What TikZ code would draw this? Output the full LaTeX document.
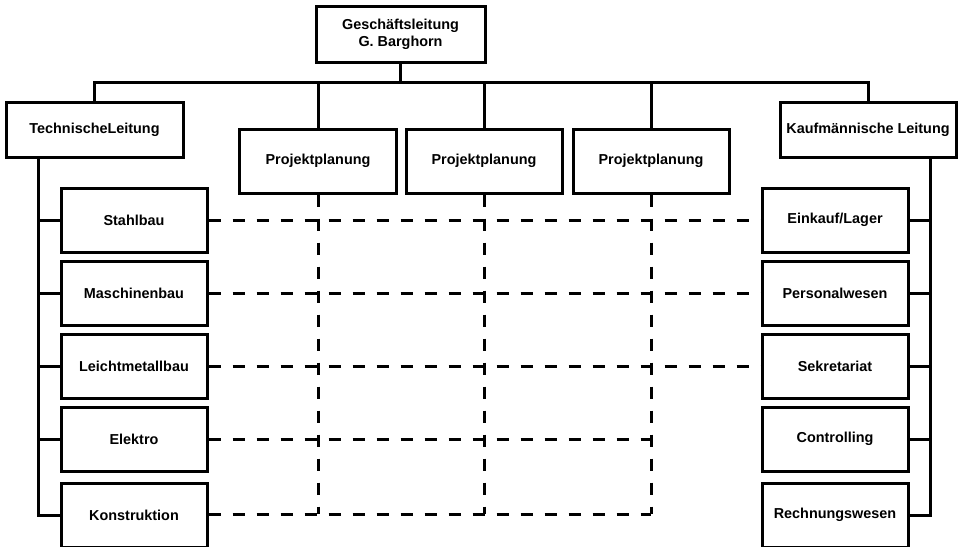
\documentclass[tikz,border=0pt]{standalone}
\usepackage{fontspec}
\setmainfont{Liberation Sans}
\begin{document}
\begin{tikzpicture}[x=1pt,y=-1pt,
  box/.style={draw,line width=3pt,fill=white,inner sep=0pt,align=center,
    font=\fontsize{14.4}{17}\selectfont\bfseries},
  sub/.style={box,minimum width=146pt,minimum height=64pt},
  tree/.style={line width=3pt},
  dsh/.style={line width=3pt,dash pattern=on 12pt off 12pt}]
\useasboundingbox (0,0) rectangle (963,546);
% nodes
\node[box,minimum width=169pt,minimum height=56pt] (top) at (400.5,34) {Geschäftsleitung\\G. Barghorn};
\node[box,minimum width=177pt,minimum height=55pt] (TL) at (94.5,129.5) {TechnischeLeitung};
\node[box,minimum width=176pt,minimum height=55pt] (KL) at (868,129.5) {Kaufmännische Leitung};
\node[box,minimum width=157pt,minimum height=64pt] (P1) at (318,161) {Projektplanung};
\node[box,minimum width=156pt,minimum height=64pt] (P2) at (484,161) {Projektplanung};
\node[box,minimum width=156pt,minimum height=64pt] (P3) at (651,161) {Projektplanung};
\coordinate (bus) at (0,82);
\coordinate (xl) at (38,0);
\coordinate (xr) at (930,0);
% dashed matrix (behind boxes)
\coordinate (yk) at (0,514);
\draw[dsh] (P1.south) -- (P1.south |- yk);
\draw[dsh] (P2.south) -- (P2.south |- yk);
\draw[dsh] (P3.south) -- (P3.south |- yk);
% left boxes
\node[sub] (L1) at (134,220) {Stahlbau};
\node[sub] (L2) at (134,293.5) {Maschinenbau};
\node[sub] (L3) at (134,366) {Leichtmetallbau};
\node[sub] (L4) at (134,439) {Elektro};
\node[sub] (L5) at (134,515) {Konstruktion};
% right boxes
\node[sub] (R1) at (835,220) {Einkauf/Lager};
\node[sub] (R2) at (835,293.5) {Personalwesen};
\node[sub] (R3) at (835,366) {Sekretariat};
\node[sub] (R4) at (835,439) {Controlling};
\node[sub] (R5) at (835,515) {Rechnungswesen};
% top tree
\draw[tree] (top.south) -- (top.south |- bus);
\draw[tree] (TL.north) |- (KL.north |- bus) -- (KL.north);
\draw[tree] (P1.north) -- (P1.north |- bus);
\draw[tree] (P2.north) -- (P2.north |- bus);
\draw[tree] (P3.north) -- (P3.north |- bus);
% left tree
\draw[tree] (TL.south -| xl) |- (L5.west);
\foreach \n in {L1,L2,L3,L4} \draw[tree] (\n.west -| xl) -- (\n.west);
% right tree
\draw[tree] (KL.south -| xr) |- (R5.east);
\foreach \n in {R1,R2,R3,R4} \draw[tree] (\n.east -| xr) -- (\n.east);
% dashed horizontals
\draw[dsh] (L1.east) -- (R1.west);
\draw[dsh] (L2.east) -- (R2.west);
\draw[dsh] (L3.east) -- (R3.west);
\draw[dsh] (L4.east) -- (L4.east -| P3.south);
\draw[dsh] (L5.east |- yk) -- (P3.south |- yk);
\end{tikzpicture}
\end{document}
